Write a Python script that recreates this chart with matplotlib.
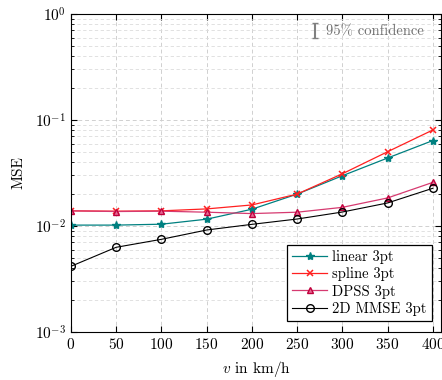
import numpy as np
import matplotlib.pyplot as plt
from matplotlib.lines import Line2D
from matplotlib.container import ErrorbarContainer
from matplotlib.collections import LineCollection

plt.rcParams['font.family'] = ['cmr10', 'DejaVu Serif']
plt.rcParams['mathtext.fontset'] = 'cm'
plt.rcParams['axes.formatter.use_mathtext'] = True

# speed in km/h
v = [0, 50, 100, 150, 200, 250, 300, 350, 400]

mse_linear = [0.0102, 0.0102, 0.0104, 0.0116, 0.0144, 0.0200, 0.0298, 0.0438, 0.0640]
mse_spline = [0.0139, 0.0138, 0.0139, 0.0145, 0.0158, 0.0200, 0.0311, 0.0502, 0.0805]
mse_dpss = [0.0139, 0.0137, 0.0138, 0.0135, 0.0131, 0.0135, 0.0150, 0.0184, 0.0258]
mse_mmse = [0.00417, 0.00630, 0.00749, 0.00917, 0.01037, 0.01164, 0.01355, 0.0165, 0.0227]

fig = plt.figure(figsize=(4.42, 3.8), dpi=100)
ax = fig.add_axes([0.1606, 0.1263, 0.837, 0.8368])

ax.plot(v, mse_linear, color='#008080', marker='*', ms=6, lw=0.9, label='linear 3pt')
ax.plot(v, mse_spline, color='#ff2020', marker='x', ms=4.5, mew=1.1, lw=0.9, label='spline 3pt')
ax.plot(v, mse_dpss, color='#d63a70', marker='^', ms=5, mfc='#e46a94', mec='#c0003c',
        lw=0.9, label='DPSS 3pt')
ax.plot(v, mse_mmse, color='black', marker='o', ms=5.5, mfc='none', lw=0.8,
        label='2D MMSE 3pt')

ax.set_yscale('log')
ax.set_ylim(1e-3, 1)
ax.set_xlim(0, 409)
ax.set_xticks(v)
ax.tick_params(which='both', direction='in', labelsize=11, top=True, right=True)
ax.tick_params(which='major', length=4)
ax.tick_params(which='minor', length=2)
ax.grid(True, which='major', ls=(0, (4, 3)), color='#d0d0d0', lw=0.7)
ax.grid(True, which='minor', ls=(0, (4, 3)), color='#dcdcdc', lw=0.6)
for s in ax.spines.values():
    s.set_linewidth(0.8)

ax.set_xlabel(r'$v$ in km/h', fontsize=11, labelpad=5)
ax.set_ylabel('MSE', fontsize=11, labelpad=7)

leg = ax.legend(loc='lower right', bbox_to_anchor=(0.976, 0.035), borderaxespad=0,
                fontsize=10.5, fancybox=False, edgecolor='black', framealpha=1,
                handlelength=2.4, borderpad=0.35, labelspacing=0.22, handletextpad=0.35)
leg.get_frame().set_linewidth(0.9)

# confidence note in the upper right corner
eb_line = Line2D([], [], color='#808080', lw=0)
eb_caps = Line2D([], [], color='#808080', marker='_', ms=5, lw=0)
eb = ErrorbarContainer((eb_line, (eb_caps,), (LineCollection([], colors='#808080'),)),
                       has_yerr=True)
note = ax.legend([eb], ['95% confidence'], loc='upper right', frameon=False,
                 fontsize=10.5, handlelength=0.7, handletextpad=0.4,
                 bbox_to_anchor=(0.97, 0.985), borderaxespad=0)
for t in note.get_texts():
    t.set_color('#707070')
ax.add_artist(leg)

fig.savefig('out.png', dpi=100)
